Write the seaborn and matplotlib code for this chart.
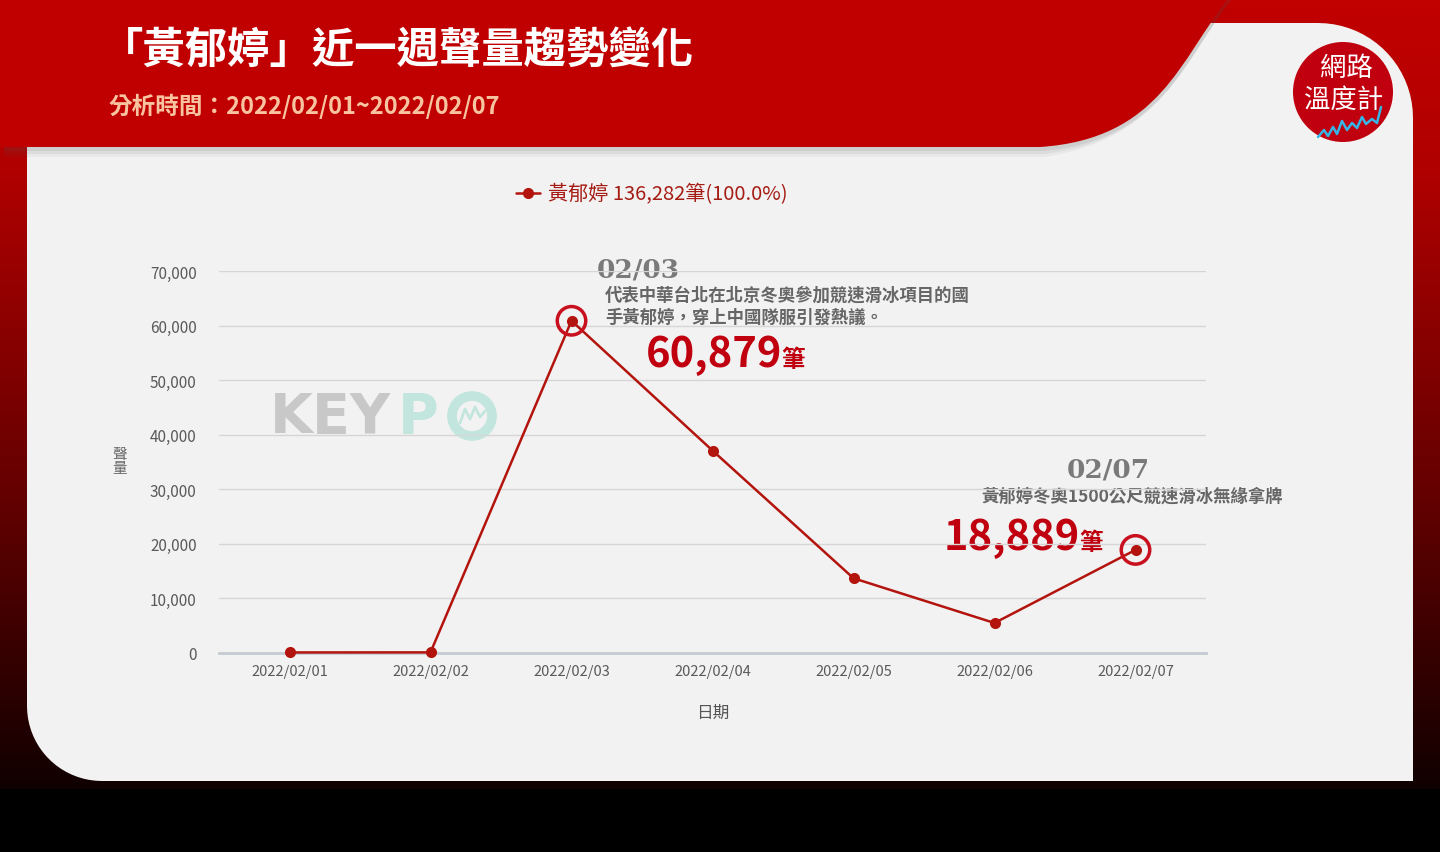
import numpy as np
import pandas as pd
import matplotlib
matplotlib.use("Agg")
import matplotlib.pyplot as plt
import seaborn as sns
from matplotlib.path import Path
from matplotlib.patches import PathPatch, Circle
from matplotlib.colors import LinearSegmentedColormap

# data
dates = ["2022/02/01", "2022/02/02", "2022/02/03", "2022/02/04",
         "2022/02/05", "2022/02/06", "2022/02/07"]
volumes = [100, 114, 60879, 37100, 13700, 5500, 18889]
series_name = "黃郁婷"
total_label = "黃郁婷 136,282筆(100.0%)"
y_ticks = [0, 10000, 20000, 30000, 40000, 50000, 60000, 70000]
highlight_idx = [2, 6]

title = "「黃郁婷」近一週聲量趨勢變化"
subtitle = "分析時間：2022/02/01~2022/02/07"

sns.set_style("white")
plt.rcParams['font.family'] = ['Noto Sans CJK TC', 'DejaVu Sans']

W, H = 1440, 853
fig = plt.figure(figsize=(W / 100, H / 100), dpi=100)

# background layer in pixel coordinates
bg = fig.add_axes([0, 0, 1, 1], zorder=-10)
bg.set_xlim(0, W)
bg.set_ylim(H, 0)
bg.axis("off")

grad_cmap = LinearSegmentedColormap.from_list(
    "bg", [(0, "#c20000"), (0.2, "#b00000"), (0.6, "#600000"),
           (0.92, "#120000"), (1, "#000000")])
grad = np.linspace(0, 1, 256).reshape(-1, 1)
bg.imshow(grad, cmap=grad_cmap, aspect="auto", extent=[0, W, H, 0], zorder=0)
bg.add_patch(plt.Rectangle((0, 790), W, 70, color="black", zorder=0.5))


def rounded_panel(x0, y0, x1, y1, r_tr, r_bl):
    pts = [(x0, y0), (x1 - r_tr, y0)]
    t = np.linspace(-np.pi / 2, 0, 20)
    pts += list(zip(x1 - r_tr + r_tr * np.cos(t), y0 + r_tr + r_tr * np.sin(t)))
    pts += [(x1, y1), (x0 + r_bl, y1)]
    t = np.linspace(np.pi / 2, np.pi, 20)
    pts += list(zip(x0 + r_bl + r_bl * np.cos(t), y1 - r_bl + r_bl * np.sin(t)))
    pts += [(x0, y0)]
    return Path(pts)


bg.add_patch(PathPatch(rounded_panel(27, 24, 1413, 782, 95, 75),
                       facecolor="#f2f2f2", edgecolor="none", zorder=1))


def header_path(dy=0):
    verts = [(0, 0), (1228, 0), (1180, 60), (1160, 140), (1040, 148 + dy),
             (0, 148 + dy), (0, 0)]
    codes = [Path.MOVETO, Path.LINETO, Path.CURVE4, Path.CURVE4, Path.CURVE4,
             Path.LINETO, Path.CLOSEPOLY]
    return Path(verts, codes)


for i, a in enumerate([0.06, 0.08, 0.1]):
    bg.add_patch(PathPatch(header_path(10 - 3 * i).transformed(
        matplotlib.transforms.Affine2D().translate(4, 0)),
        facecolor="#555555", edgecolor="none", alpha=a, zorder=2))
bg.add_patch(PathPatch(header_path(), facecolor="#c00000",
                       edgecolor="none", zorder=3))

bg.text(101, 52, title, color="white", fontsize=30.5, fontweight="bold",
        va="center", ha="left", zorder=4)
bg.text(109, 106, subtitle, color="#f8c3a0", fontsize=17, fontweight="bold",
        va="center", ha="left", zorder=4)

# logo
bg.add_patch(Circle((1343, 93), 50, facecolor="#c0000e", edgecolor="none", zorder=4))
bg.text(1346, 68, "網路", color="white", fontsize=19, ha="center", va="center", zorder=5)
bg.text(1344, 100, "溫度計", color="white", fontsize=19, ha="center", va="center", zorder=5)
bg.plot([1318, 1324, 1328, 1333, 1337, 1342, 1347, 1352, 1357, 1362, 1366, 1372, 1377, 1381],
        [138, 131, 137, 128, 135, 122, 131, 124, 129, 118, 125, 120, 124, 108],
        color="#35b6e6", lw=1.8, zorder=5)

# watermark
bg.text(270, 418, "KEY", color="#c8c8c8", fontsize=40, fontweight="bold",
        family="DejaVu Sans", va="center", ha="left", zorder=2)
bg.text(398, 418, "P", color="#c2e6dd", fontsize=40, fontweight="bold",
        family="DejaVu Sans", va="center", ha="left", zorder=2)
bg.add_patch(Circle((472, 417), 20, facecolor="none", edgecolor="#c2e6dd", lw=7, zorder=2))
bg.plot([460, 465, 470, 475, 480, 485], [424, 410, 420, 408, 418, 412],
        color="#c2e6dd", lw=2, zorder=2)

# chart
ax = fig.add_axes([219 / W, 1 - 654 / H, 987 / W, 382 / H])
ax.set_facecolor("none")
df = pd.DataFrame({"date": dates, "volume": volumes})
line_color = "#b3140d"
sns.lineplot(data=df, x="date", y="volume", ax=ax, color=line_color, lw=1.8,
             marker="o", markersize=8, markeredgewidth=0, sort=False,
             label=total_label, clip_on=False, zorder=5)

hx = [i for i in highlight_idx]
hy = [volumes[i] for i in highlight_idx]
ax.scatter(hx, hy, s=420, facecolors="none", edgecolors="#c8101e",
           linewidths=2.5, zorder=6, clip_on=False)

ax.set_xlim(-0.5, 6.5)
ax.set_ylim(0, 70000)
ax.set_yticks(y_ticks)
ax.set_yticklabels([f"{v:,}" for v in y_ticks], color="#5a5a5a", fontsize=11)
ax.set_xticks(range(len(dates)))
ax.set_xticklabels(dates, color="#5a5a5a", fontsize=10.5)
ax.set_xticks(np.arange(-0.5, 7, 1), minor=True)
ax.tick_params(axis="x", which="major", length=0, pad=8)
ax.tick_params(axis="x", which="minor", length=10, color="#c5cbd3", width=1.2)
ax.tick_params(axis="y", length=0, pad=16)
ax.grid(axis="y", color="#d6d6d6", lw=1)
ax.grid(axis="x", visible=False)
for s in ["top", "right", "left"]:
    ax.spines[s].set_visible(False)
ax.spines["bottom"].set_color("#c5cbd3")
ax.spines["bottom"].set_linewidth(2)
ax.set_xlabel("")
ax.set_ylabel("")

leg = ax.legend(loc="center", bbox_to_anchor=(652 / W, 1 - 195 / H),
                bbox_transform=fig.transFigure, frameon=False, fontsize=14.5,
                labelcolor="#a51c14", handlelength=1.2, handletextpad=0.4)

bg.text(120, 462, "聲\n量", color="#666666", fontsize=10.5, ha="center",
        va="center", linespacing=1.0, zorder=2)
bg.text(713, 713, "日期", color="#555555", fontsize=12, ha="center", va="center", zorder=2)

# annotations
gray = "#7a7a7a"
bg.text(597, 270, "02/03", color=gray, fontsize=19, fontweight="bold",
        family="DejaVu Serif", ha="left", va="center", zorder=7)
bg.text(605, 296, "代表中華台北在北京冬奧參加競速滑冰項目的國", color="#666666",
        fontsize=12.5, fontweight="bold", ha="left", va="center", zorder=7)
bg.text(605, 318, "手黃郁婷，穿上中國隊服引發熱議。", color="#666666",
        fontsize=12.5, fontweight="bold", ha="left", va="center", zorder=7)
bg.text(646, 355, f"{volumes[2]:,}", color="#c0000e", fontsize=30,
        fontweight="bold", ha="left", va="center", zorder=7)
bg.text(781, 360, "筆", color="#c0000e", fontsize=17, fontweight="bold",
        ha="left", va="center", zorder=7)

bg.text(1067, 470, "02/07", color=gray, fontsize=19, fontweight="bold",
        family="DejaVu Serif", ha="left", va="center", zorder=7)
bg.text(1283, 497, "黃郁婷冬奧1500公尺競速滑冰無緣拿牌", color="#666666",
        fontsize=12.5, fontweight="bold", ha="right", va="center", zorder=7)
bg.text(944, 538, f"{volumes[6]:,}", color="#c0000e", fontsize=30,
        fontweight="bold", ha="left", va="center", zorder=7)
bg.text(1079, 543, "筆", color="#c0000e", fontsize=17, fontweight="bold",
        ha="left", va="center", zorder=7)

fig.savefig("out.png", dpi=100)
